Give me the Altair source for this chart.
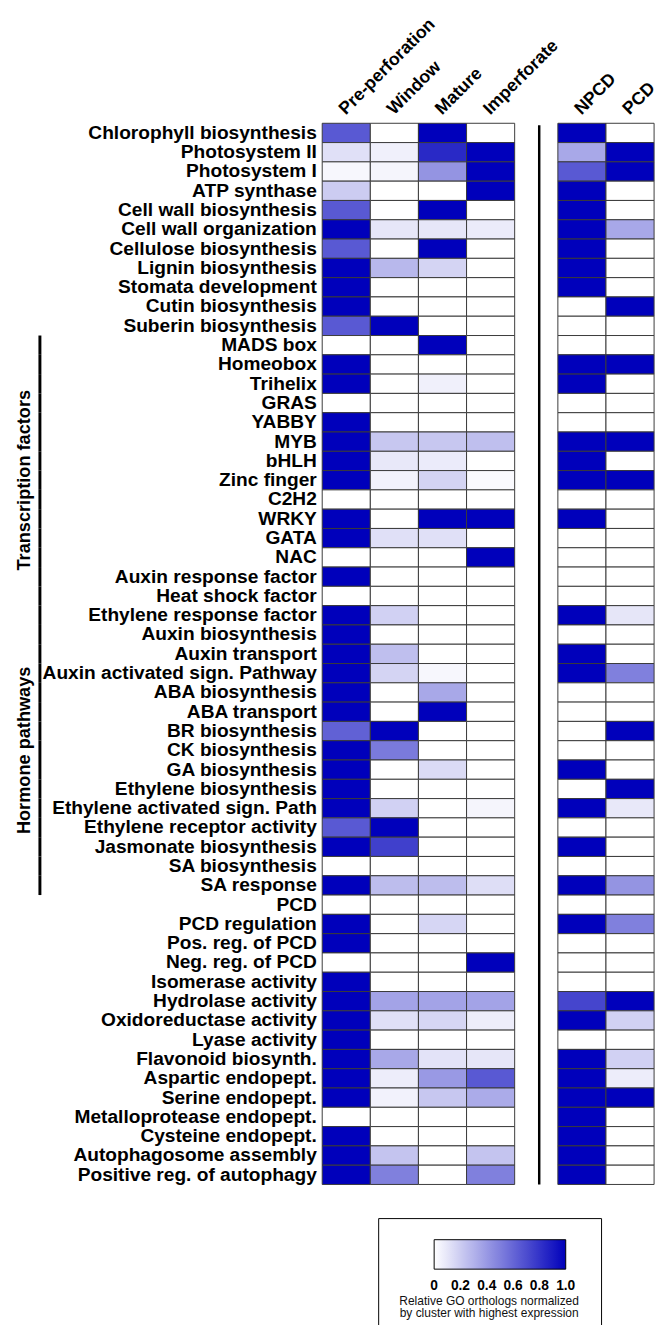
import altair as alt
import pandas as pd

rows = [
    "Chlorophyll biosynthesis", "Photosystem II", "Photosystem I", "ATP synthase",
    "Cell wall biosynthesis", "Cell wall organization", "Cellulose biosynthesis",
    "Lignin biosynthesis", "Stomata development", "Cutin biosynthesis", "Suberin biosynthesis",
    "MADS box", "Homeobox", "Trihelix", "GRAS", "YABBY", "MYB", "bHLH", "Zinc finger",
    "C2H2", "WRKY", "GATA", "NAC", "Auxin response factor", "Heat shock factor",
    "Ethylene response factor",
    "Auxin biosynthesis", "Auxin transport", "Auxin activated sign. Pathway",
    "ABA biosynthesis", "ABA transport", "BR biosynthesis", "CK biosynthesis",
    "GA biosynthesis", "Ethylene biosynthesis", "Ethylene activated sign. Path",
    "Ethylene receptor activity", "Jasmonate biosynthesis", "SA biosynthesis", "SA response",
    "PCD", "PCD regulation", "Pos. reg. of PCD", "Neg. reg. of PCD", "Isomerase activity",
    "Hydrolase activity", "Oxidoreductase activity", "Lyase activity", "Flavonoid biosynth.",
    "Aspartic endopept.", "Serine endopept.", "Metalloprotease endopept.",
    "Cysteine endopept.", "Autophagosome assembly", "Positive reg. of autophagy",
]

stages = ["Pre-perforation", "Window", "Mature", "Imperforate"]
clusters = ["NPCD", "PCD"]

pre = [0.65, 0.12, 0.03, 0.2, 0.65, 1, 0.65, 1, 1, 1, 0.65,
       0, 1, 1, 0, 1, 1, 1, 1, 0, 1, 1, 0, 1, 0, 1,
       1, 1, 1, 1, 1, 0.62, 1, 1, 1, 1, 0.65, 1, 0, 1,
       0, 1, 1, 0, 1, 1, 1, 1, 1, 1, 1, 0, 1, 1, 1]
window = [0, 0.06, 0.04, 0, 0, 0.1, 0, 0.28, 0, 0, 1,
          0, 0, 0, 0, 0, 0.22, 0.09, 0.05, 0, 0, 0.12, 0, 0, 0, 0.18,
          0, 0.25, 0.17, 0, 0, 1, 0.52, 0, 0, 0.18, 1, 0.75, 0, 0.26,
          0, 0, 0, 0, 0, 0.36, 0.12, 0, 0.34, 0.07, 0.05, 0, 0, 0.23, 0.5]
mature = [1, 0.84, 0.42, 0, 1, 0.1, 1, 0.17, 0, 0, 0,
          1, 0, 0.06, 0, 0, 0.22, 0.08, 0.17, 0, 1, 0.12, 0, 0, 0, 0,
          0, 0, 0.03, 0.34, 1, 0, 0, 0.14, 0, 0, 0, 0, 0, 0.26,
          0, 0.16, 0, 0, 0, 0.36, 0.16, 0, 0.11, 0.4, 0.22, 0, 0, 0, 0]
imperforate = [0, 1, 1, 1, 0, 0.08, 0, 0, 0, 0, 0,
               0, 0, 0, 0, 0, 0.25, 0, 0.02, 0, 1, 0, 1, 0, 0, 0,
               0, 0, 0, 0, 0, 0, 0, 0, 0, 0.04, 0, 0, 0, 0.13,
               0, 0, 0, 1, 0, 0.36, 0.07, 0, 0.1, 0.65, 0.33, 0, 0, 0.23, 0.5]
npcd = [1, 0.34, 0.65, 1, 1, 1, 1, 1, 1, 0, 0,
        0, 1, 1, 0, 0, 1, 1, 1, 0, 1, 0, 0, 0, 0, 1,
        0, 1, 1, 0, 0, 0, 0, 1, 0, 1, 0, 1, 0, 1,
        0, 1, 0, 0, 0, 0.73, 1, 0, 1, 1, 1, 1, 1, 1, 1]
pcd = [0, 1, 1, 0, 0, 0.34, 0, 0, 0, 1, 0,
       0, 1, 0, 0, 0, 1, 0, 1, 0, 0, 0, 0, 0, 0, 0.1,
       0, 0, 0.5, 0, 0, 1, 0, 0, 1, 0.09, 0, 0, 0, 0.42,
       0, 0.5, 0, 0, 0, 1, 0.18, 0, 0.18, 0.07, 1, 0, 0, 0, 0]

groups = ["Transcription factors", "Hormone pathways"]
group_first = ["MADS box", "Auxin biosynthesis"]
group_last = ["Ethylene response factor", "SA response"]

legend_ticks = [0, 0.2, 0.4, 0.6, 0.8, 1.0]
legend_title = ["Relative GO orthologs normalized", "by cluster with highest expression"]

FONT = "Liberation Sans"
ROW_H = 19.65
H = ROW_H * len(rows)
COL_W = 49

left_df = pd.DataFrame({
    "term": rows * len(stages),
    "col": [s for s in stages for _ in rows],
    "value": pre + window + mature + imperforate,
})
right_df = pd.DataFrame({
    "term": rows * len(clusters),
    "col": [c for c in clusters for _ in rows],
    "value": npcd + pcd,
})

bar_rows, odd_labels, even_labels = [], [], []
for g, a, b in zip(groups, group_first, group_last):
    i0, i1 = rows.index(a), rows.index(b)
    members = rows[i0:i1 + 1]
    bar_rows += [{"term": t, "group": g} for t in members]
    n = len(members)
    if n % 2 == 1:
        odd_labels.append({"term": members[n // 2], "label": g})
    else:
        even_labels.append({"term": members[n // 2 - 1], "label": g})
bar_df = pd.DataFrame(bar_rows)
odd_df = pd.DataFrame(odd_labels)
even_df = pd.DataFrame(even_labels)

# nudge end values slightly inside so Vega centres every gradient label
legend_values = [min(max(v, 1e-4), 1 - 1e-4) for v in legend_ticks]

color_scale = alt.Scale(domain=[0, 1], range=["#ffffff", "#0000bb"], interpolate="rgb")
legend = alt.Legend(
    orient="none", legendX=57, legendY=1115, direction="horizontal",
    gradientLength=134, gradientThickness=30,
    gradientStrokeColor="black", gradientStrokeWidth=1,
    values=legend_values, labelOverlap=False,
    labelExpr="datum.value < 0.01 ? '0' : format(datum.value, '.1f')",
    labelFont=FONT, labelFontWeight="bold", labelFontSize=14, labelColor="black",
    labelOffset=10,
    title=legend_title, titleOrient="bottom", titleFont=FONT, titleFontWeight="normal",
    titleFontSize=12.2, titleColor="#111111", titleAnchor="middle", titleAlign="center",
    titlePadding=2, titleLineHeight=12.5, titleLimit=400,
    strokeColor="black", fillColor="white", padding=22,
)
color = alt.Color("value:Q", scale=color_scale, legend=legend)

yaxis = alt.Axis(labelFont=FONT, labelFontWeight="bold", labelFontSize=19.5, labelColor="black",
                 labelPadding=6, ticks=False, domain=False, labelLimit=500)
yscale = alt.Scale(domain=rows, paddingInner=0, paddingOuter=0)


def yenc():
    return alt.Y("term:N", sort=rows, scale=yscale, axis=yaxis, title=None)


def xaxis():
    return alt.Axis(orient="top", labelAngle=-45, labelAlign="left", labelBaseline="middle",
                    labelFont=FONT, labelFontWeight="bold", labelFontSize=18, labelColor="black",
                    labelPadding=12, labelOffset=-4, ticks=False, domain=False, labelLimit=500)


heat_left = alt.Chart(left_df).mark_rect(stroke="#3a3a3a", strokeWidth=1).encode(
    x=alt.X("col:N", sort=stages, scale=alt.Scale(domain=stages, paddingInner=0, paddingOuter=0),
            axis=xaxis(), title=None),
    y=yenc(),
    color=color,
)
bars = alt.Chart(bar_df).mark_rect(color="black").encode(
    x=alt.value(-289), x2=alt.value(-286), y=yenc()
)
txt_style = dict(angle=270, font=FONT, fontWeight="bold", fontSize=18.5, color="black",
                 align="center", baseline="middle")
odd_txt = alt.Chart(odd_df).mark_text(**txt_style).encode(
    x=alt.value(-304), y=yenc(), text="label:N"
)
even_txt = alt.Chart(even_df).mark_text(**txt_style).encode(
    x=alt.value(-304), y=yenc(), text="label:N", yOffset=alt.value(ROW_H / 2)
)
left = alt.layer(heat_left, bars, odd_txt, even_txt).properties(width=4 * COL_W, height=H)

heat_right = alt.Chart(right_df).mark_rect(stroke="#3a3a3a", strokeWidth=1).encode(
    x=alt.X("col:N", sort=clusters, scale=alt.Scale(domain=clusters, paddingInner=0, paddingOuter=0),
            axis=xaxis(), title=None),
    y=alt.Y("term:N", sort=rows, scale=yscale, axis=None, title=None),
    color=color,
)
sep = alt.Chart(pd.DataFrame({"k": [0]})).mark_rule(color="black", strokeWidth=2.5).encode(
    x=alt.value(-19), y=alt.value(2), y2=alt.value(H)
)
right = alt.layer(heat_right, sep).properties(width=2 * COL_W, height=H)

chart = alt.hconcat(left, right, spacing=44, bounds="flush").properties(
    padding={"left": 6, "top": -6, "right": 0, "bottom": 0}
).configure_view(stroke=None)

chart.save("out.html", embed_options={"renderer": "svg", "actions": False})
